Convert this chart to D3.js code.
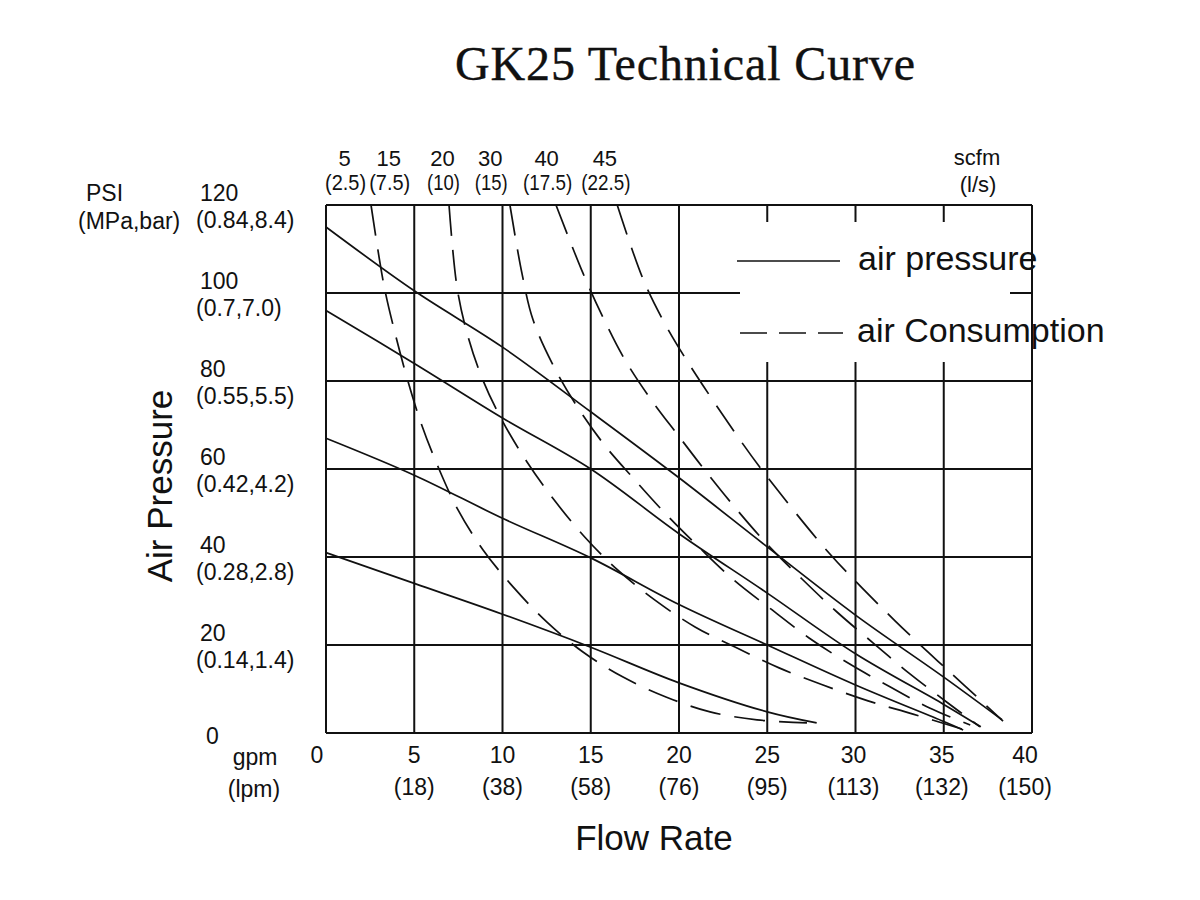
<!DOCTYPE html>
<html>
<head>
<meta charset="utf-8">
<script src="https://cdn.jsdelivr.net/npm/d3@7"></script>
<style>
  body { margin: 0; background: #fff; }
  svg { display: block; }
  text { font-family: 'Liberation Sans', Arial, sans-serif; fill: #111; }
</style>
</head>
<body>
<svg id="chart" width="1200" height="900"></svg>
<script>
// axis ticks and labels
const gpmTicks = [0, 5, 10, 15, 20, 25, 30, 35, 40];
const lpmLabels = ['', '(18)', '(38)', '(58)', '(76)', '(95)', '(113)', '(132)', '(150)'];
const psiTicks = [0, 20, 40, 60, 80, 100, 120];
const mpaBarLabels = ['', '(0.14,1.4)', '(0.28,2.8)', '(0.42,4.2)', '(0.55,5.5)', '(0.7,7.0)', '(0.84,8.4)'];

// air consumption labels along the top (scfm / l/s), placed at gpm positions
const scfmLabels = ['5', '15', '20', '30', '40', '45'];
const lsLabels = ['(2.5)', '(7.5)', '(10)', '(15)', '(17.5)', '(22.5)'];
const scfmLabelGpm = [1.05, 3.55, 6.6, 9.3, 12.5, 15.8];

// air pressure curves (solid): [gpm, psi]
const pressureA = [[0, 115], [5, 100.5], [10, 87.7], [15, 73], [20, 58], [25, 42.3], [30, 26.8], [35, 12.7], [38.3, 3]];
const pressureB = [[0, 96], [5, 84], [10, 71.6], [15, 60], [20, 45.3], [25, 31.8], [30, 18], [35, 6.5], [37.1, 1.4]];
const pressureC = [[0, 67], [5, 58.6], [10, 48.8], [15, 39.8], [20, 29.2], [25, 20], [30, 10.9], [35, 2.6], [36.1, 0.7]];
const pressureD = [[0, 41], [5, 34], [10, 27], [15, 19.5], [20, 11.4], [25, 4.8], [27.8, 2.3]];

// air consumption curves (dashed): [gpm, psi]
const consumption15 = [[2.55, 120], [3.29, 101.6], [3.91, 90.9], [4.59, 80.7], [5.38, 70.5], [6.35, 60.5], [7.48, 50.7], [8.9, 41.6], [10.6, 33.2], [12.52, 25.2], [14.56, 18.4], [16.83, 12.7], [19.26, 8.2], [21.76, 4.8], [24.42, 3], [27.25, 2.3]];
const consumption20 = [[6.97, 120], [7.42, 101.4], [7.99, 90.9], [8.84, 80.7], [9.97, 71.1], [11.39, 61.6], [12.92, 53], [14.67, 44.5], [16.54, 37], [18.64, 30.2], [20.91, 24.1], [23.29, 19.3], [25.67, 14.8], [28.16, 10.9], [30.71, 7.3], [33.26, 4.3], [36.03, 0.9]];
const consumption30 = [[10.42, 120], [11.1, 104.5], [11.73, 93.9], [12.8, 84.1], [14.1, 75], [15.69, 65.9], [17.39, 58], [19.2, 50], [21.19, 42], [23.1, 34.8], [25.2, 28.2], [27.37, 21.6], [29.58, 15.9], [31.95, 10.5], [34.2, 5.7], [36.5, 1.8]];
const consumption40 = [[13.03, 120], [14.56, 104.5], [15.69, 94.5], [16.88, 85.2], [18.36, 76.1], [19.94, 67.7], [21.59, 59.1], [23.29, 50.7], [25.04, 42.7], [26.97, 35], [28.95, 27.5], [30.99, 20.5], [33.03, 13.6], [35.18, 7], [37.05, 1.4]];
const consumption45 = [[16.5, 120], [17.96, 103.2], [19.15, 93.4], [20.5, 84.3], [23.46, 66.6], [25.04, 58], [28.5, 40.9], [30.37, 33], [32.24, 25.5], [34.16, 18.2], [36.15, 10.9], [38.36, 2.7]];

const svg = d3.select('#chart');

// SCALES
const x = d3.scaleLinear().domain([0, 40]).range([326, 1032]);
const y = d3.scaleLinear().domain([0, 120]).range([733, 205]);

// TITLE (serif, spaced out like the monospaced original)
svg.append('text')
  .attr('x', 455).attr('y', 80)
  .attr('textLength', 460)
  .attr('lengthAdjust', 'spacing')
  .style('font-family', "'Liberation Serif', 'Times New Roman', serif")
  .style('font-size', '48px')
  .style('stroke', '#111')
  .style('stroke-width', '0.4px')
  .text('GK25 Technical Curve');

// GRID
const grid = svg.append('g').attr('stroke', '#111').attr('stroke-width', 2);
grid.selectAll('line.v')
  .data(gpmTicks)
  .join('line')
  .attr('class', 'v')
  .attr('x1', (d) => x(d)).attr('x2', (d) => x(d))
  .attr('y1', y(120)).attr('y2', y(0));
grid.selectAll('line.h')
  .data(psiTicks)
  .join('line')
  .attr('class', 'h')
  .attr('x1', x(0)).attr('x2', x(40))
  .attr('y1', (d) => y(d)).attr('y2', (d) => y(d));

// legend background knocks out the grid behind it
svg.append('rect')
  .attr('x', 740).attr('y', 222)
  .attr('width', 270).attr('height', 140)
  .attr('fill', '#fff');

// CURVES
const line = d3.line()
  .x((d) => x(d[0]))
  .y((d) => y(d[1]))
  .curve(d3.curveCatmullRom.alpha(0.5));

const curves = svg.append('g').attr('fill', 'none').attr('stroke', '#111').attr('stroke-width', 1.7);
curves.selectAll('path.pressure')
  .data([pressureA, pressureB, pressureC, pressureD])
  .join('path')
  .attr('class', 'pressure')
  .attr('d', line);
curves.selectAll('path.consumption')
  .data([consumption15, consumption20, consumption30, consumption40, consumption45])
  .join('path')
  .attr('class', 'consumption')
  .attr('stroke-dasharray', '31,14')
  .attr('d', line);

// LEGEND
svg.append('line')
  .attr('x1', 737).attr('x2', 840).attr('y1', 261).attr('y2', 261)
  .attr('stroke', '#111').attr('stroke-width', 1.7);
svg.append('line')
  .attr('x1', 740).attr('x2', 843).attr('y1', 333).attr('y2', 333)
  .attr('stroke', '#111').attr('stroke-width', 1.7)
  .attr('stroke-dasharray', '27,12');
svg.append('text').attr('x', 858).attr('y', 270)
  .style('font-size', '34px').text('air pressure');
svg.append('text').attr('x', 857).attr('y', 342)
  .style('font-size', '34px').text('air Consumption');

// TOP LABELS (scfm / l/s)
const topLabels = svg.append('g').style('font-size', '22px').attr('text-anchor', 'middle');
topLabels.selectAll('text.scfm')
  .data(scfmLabels)
  .join('text')
  .attr('class', 'scfm')
  .attr('x', (d, i) => x(scfmLabelGpm[i]))
  .attr('y', 166)
  .text((d) => d);
topLabels.selectAll('text.ls')
  .data(lsLabels)
  .join('text')
  .attr('class', 'ls')
  .attr('x', (d, i) => x(scfmLabelGpm[i]) + 1)
  .attr('y', 190)
  .attr('textLength', (d) => d.length * 8.2)
  .attr('lengthAdjust', 'spacingAndGlyphs')
  .text((d) => d);
topLabels.append('text').attr('x', 977).attr('y', 165).text('scfm');
topLabels.append('text').attr('x', 978).attr('y', 192).text('(l/s)');

// LEFT LABELS (PSI / MPa,bar)
const leftLabels = svg.append('g').style('font-size', '23px');
leftLabels.append('text').attr('x', 86).attr('y', 201).text('PSI');
leftLabels.append('text').attr('x', 78).attr('y', 229).text('(MPa,bar)');
leftLabels.selectAll('text.psi')
  .data(psiTicks)
  .join('text')
  .attr('class', 'psi')
  .attr('x', (d) => (d === 0 ? 206 : 200))
  .attr('y', (d) => (d === 0 ? y(d) + 11 : y(d) - 4))
  .text((d) => d);
leftLabels.selectAll('text.mpa')
  .data(mpaBarLabels)
  .join('text')
  .attr('class', 'mpa')
  .attr('x', 196)
  .attr('y', (d, i) => y(psiTicks[i]) + 23)
  .text((d) => d);

// BOTTOM LABELS (gpm / lpm)
const bottomLabels = svg.append('g').style('font-size', '23px').attr('text-anchor', 'middle');
const labelShift = (d) => (d === 0 ? -9 : d === 40 ? -7 : d >= 30 ? -2 : 0);
bottomLabels.selectAll('text.gpm')
  .data(gpmTicks)
  .join('text')
  .attr('class', 'gpm')
  .attr('x', (d) => x(d) + labelShift(d))
  .attr('y', 763)
  .text((d) => d);
bottomLabels.selectAll('text.lpm')
  .data(lpmLabels)
  .join('text')
  .attr('class', 'lpm')
  .attr('x', (d, i) => x(gpmTicks[i]) + labelShift(gpmTicks[i]))
  .attr('y', 795)
  .text((d) => d);
bottomLabels.append('text').attr('x', 255).attr('y', 765).text('gpm');
bottomLabels.append('text').attr('x', 254).attr('y', 797).text('(lpm)');

// AXIS TITLES
svg.append('text')
  .attr('transform', 'translate(172,486) rotate(-90)')
  .attr('text-anchor', 'middle')
  .style('font-size', '35px')
  .text('Air Pressure');
svg.append('text')
  .attr('x', 654).attr('y', 850)
  .attr('text-anchor', 'middle')
  .style('font-size', '35px')
  .text('Flow Rate');
</script>
</body>
</html>
